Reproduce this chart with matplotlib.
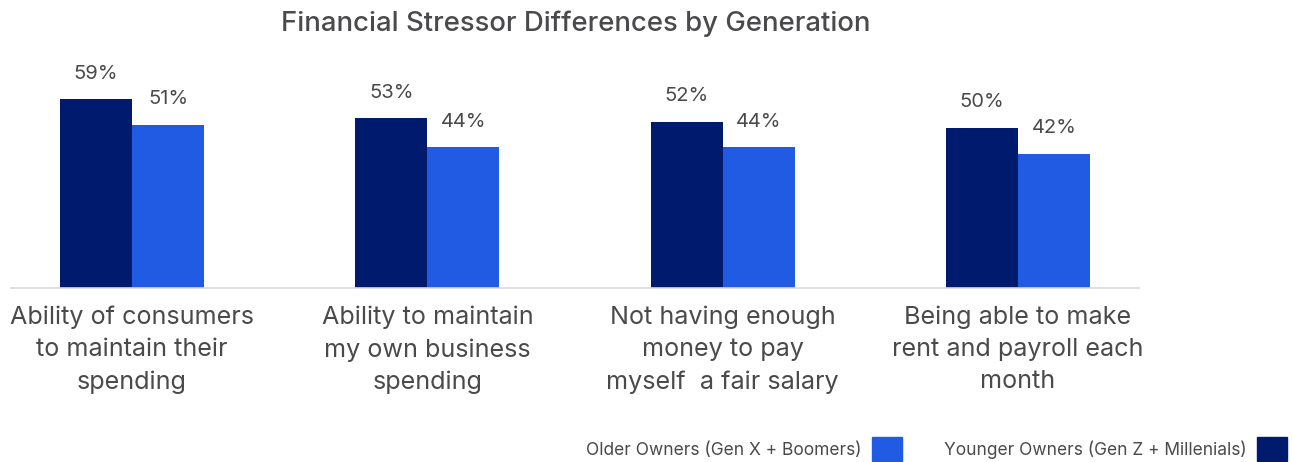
import matplotlib.pyplot as plt
from matplotlib.patches import Patch
import numpy as np

plt.rcParams['font.family'] = ['Inter', 'DejaVu Sans']

categories = [
    "Ability of consumers\nto maintain their\nspending",
    "Ability to maintain\nmy own business\nspending",
    "Not having enough\nmoney to pay\nmyself  a fair salary",
    "Being able to make\nrent and payroll each\nmonth",
]
younger = [59, 53, 52, 50]
older = [51, 44, 44, 42]

dark_blue = '#001b6e'
light_blue = '#225be3'
text_grey = '#4a4a4c'

W, H = 1293, 462
fig = plt.figure(figsize=(W / 100, H / 100), dpi=100)
# axes placed in pixel terms: x 11..1139, y 60..288
ax = fig.add_axes([11 / W, (H - 288) / H, 1128 / W, 228 / H])

x = np.arange(len(categories))
w = 0.244
b1 = ax.bar(x - w / 2, younger, w, color=dark_blue)
b2 = ax.bar(x + w / 2, older, w, color=light_blue)

for bars, vals in ((b1, younger), (b2, older)):
    for bar, v in zip(bars, vals):
        ax.text(bar.get_x() + bar.get_width() / 2, v + 8, f"{v}%",
                ha='center', va='center', fontsize=14.5, color=text_grey)

ax.set_xlim(-0.41, 3.41)
ax.set_ylim(0, 71.25)
ax.set_yticks([])
ax.set_xticks(x)
ax.set_xticklabels(categories, fontsize=18.1, color=text_grey, linespacing=1.5)
ax.tick_params(axis='x', length=0, pad=12.5)
for s in ('top', 'right', 'left'):
    ax.spines[s].set_visible(False)
ax.spines['bottom'].set_color('#d9d9d9')
ax.spines['bottom'].set_linewidth(1.2)

fig.text(576 / W, 1 - 24 / H, "Financial Stressor Differences by Generation",
         ha='center', va='center', fontsize=19.8, fontweight='medium', color=text_grey)

handles = [Patch(color=light_blue), Patch(color=dark_blue)]
labels = ["Older Owners (Gen X + Boomers)", "Younger Owners (Gen Z + Millenials)"]
fig.legend(handles, labels, loc='lower right', bbox_to_anchor=(1287 / W, 1 / H),
           ncol=2, frameon=False, markerfirst=False, fontsize=12.5,
           labelcolor=text_grey, handlelength=1.72, handleheight=1.72,
           handletextpad=0.63, columnspacing=2.4, borderpad=0, borderaxespad=0)

fig.savefig('out.png', dpi=100)
